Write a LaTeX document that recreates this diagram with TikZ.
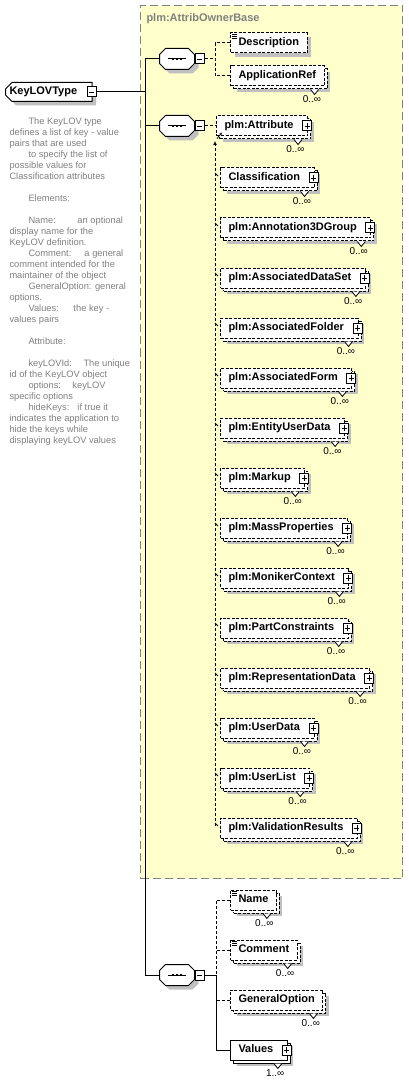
\documentclass[tikz,border=0pt]{standalone}
\usepackage{fontspec}
\setmainfont{Liberation Sans}
\usepackage{tikz}
\usetikzlibrary{arrows.meta,shapes.misc,shadows}
\definecolor{basefill}{HTML}{FFFFCC}
\definecolor{shade}{HTML}{C0C0C0}
\definecolor{notegray}{HTML}{808080}
\newcommand{\elemfont}{\fontsize{11}{13}\bfseries\selectfont}
\newcommand{\notefont}{\fontsize{9.3}{11}\selectfont}
\newcommand{\multfont}{\fontsize{10}{11}\selectfont}
\newcommand{\ind}{\hspace*{19pt}}
% octagon round a compositor node
\newcommand{\octpath}[1]{([xshift=6pt]#1.north west) -- ([xshift=-6pt]#1.north east)
  -- ([yshift=-6pt]#1.north east) -- ([yshift=6pt]#1.south east)
  -- ([xshift=-6pt]#1.south east) -- ([xshift=6pt]#1.south west)
  -- ([yshift=6pt]#1.south west) -- ([yshift=-6pt]#1.north west) -- cycle}

\tikzset{
  elem/.style={draw, fill=white, anchor=west, font=\elemfont, minimum height=20pt,
    inner xsep=8pt, inner ysep=0pt, text height=8pt, text depth=2.5pt,
    dash pattern=on 3pt off 1.5pt},
  single/.style={drop shadow={shadow xshift=4pt, shadow yshift=-4pt, fill=shade, opacity=1}},
  many/.style={drop shadow={shadow xshift=6pt, shadow yshift=-6pt, fill=shade, opacity=1},
    copy shadow={shadow xshift=3pt, shadow yshift=-3pt, draw, fill=white, opacity=1}},
  plus/.style={execute at end node=\hspace*{6pt}},
  plusbox/.style={draw, solid, fill=white, minimum width=9pt, minimum height=10pt, inner sep=0pt,
    path picture={
      \draw[line width=0.8pt] ([xshift=2pt]path picture bounding box.west) -- ([xshift=-2pt]path picture bounding box.east);
      \draw[line width=0.8pt] ([yshift=2pt]path picture bounding box.south) -- ([yshift=-2pt]path picture bounding box.north);}},
  minbox/.style={draw, solid, fill=white, minimum width=9pt, minimum height=10pt, inner sep=0pt,
    path picture={
      \draw[line width=0.8pt] ([xshift=2pt]path picture bounding box.west) -- ([xshift=-2pt]path picture bounding box.east);}},
  seq/.style={minimum width=34pt, minimum height=20pt, inner sep=0pt},
  seqshadow/.style={fill=shade, transform canvas={shift={(4pt,-4pt)}}},
  seqshape/.style={draw, solid, fill=white},
  root/.style={draw, solid, fill=white, chamfered rectangle, chamfered rectangle corners={north west,south west},
    chamfered rectangle xsep=3pt, anchor=west, font=\elemfont, minimum height=19pt,
    inner xsep=1pt, inner ysep=0pt, text height=8pt, text depth=2.5pt,
    execute at end node=\hspace*{11pt},
    drop shadow={shadow xshift=4pt, shadow yshift=-4pt, fill=shade, opacity=1}},
  basebox/.style={draw=notegray, dash pattern=on 8pt off 4pt, fill=basefill},
  basetitle/.style={text=notegray, font=\elemfont, anchor=west, inner sep=0pt},
  note/.style={text=notegray, font=\notefont, align=left, anchor=north west, inner sep=0pt},
  mult/.style={font=\multfont, anchor=north east, inner sep=0pt},
  notch/.style={solid, fill=white, line width=0.8pt},
  dashline/.style={dash pattern=on 3pt off 2pt},
  subtick/.style={line width=0.8pt},
  icon/.style={solid, line width=0.6pt}
}

\begin{document}
\begin{tikzpicture}[x=1pt, y=-1pt, line width=1pt]
\useasboundingbox (0,0) rectangle (408,1083);

% base type area
\node[basebox, anchor=north west, minimum width=262pt, minimum height=873pt] (base) at (140,5) {};
\node[basetitle] (base-t) at (146,19) {plm:AttribOwnerBase};

% complex type and its documentation
\node[root] (key) at (5,92) {KeyLOVType};
\node[minbox] (key-m) at ([xshift=-1pt]key.east) {};
\node[note] (doc) at (9,117) {\ind The KeyLOV type\\
defines a list of key - value\\
pairs that are used\\
\ind to specify the list of\\
possible values for\\
Classification attributes\\[11pt]
\ind Elements:\\[11pt]
\ind\makebox[49pt][l]{Name:}an optional\\
display name for the\\
KeyLOV definition.\\
\ind\makebox[56pt][l]{Comment:}a general\\
comment intended for the\\
maintainer of the object\\
\ind GeneralOption: general\\
options.\\
\ind\makebox[45pt][l]{Values:}the key -\\
values pairs\\[11pt]
\ind Attribute:\\[11pt]
\ind\makebox[55pt][l]{keyLOVId:}The unique\\
id of the KeyLOV object\\
\ind\makebox[44pt][l]{options:}keyLOV\\
specific options\\
\ind\makebox[49pt][l]{hideKeys:}if true it\\
indicates the application to\\
hide the keys while\\
displaying keyLOV values};

% sequences
\foreach \s/\y in {1/59, 2/126, 3/975} {
  \node[seq] (seq\s) at (177,\y) {};
  \fill[seqshadow] \octpath{seq\s};
  \draw[seqshape] \octpath{seq\s};
  \draw ([xshift=-9pt]seq\s.center) -- ([xshift=9pt]seq\s.center);
  \foreach \q in {-4,0,4}
    \fill ([xshift=\q pt-1.3pt,yshift=-1.3pt]seq\s.center) rectangle ([xshift=\q pt+1.3pt,yshift=1.3pt]seq\s.center);
  \node[minbox, anchor=west] (seq\s-m) at (seq\s.east) {};
}
\coordinate (t1) at (145,59);
\coordinate (t3) at (145,975);
\draw (t1) -- (t3);
\draw (key-m.east) -- (key-m.east -| t1);
\draw (t1) -- (seq1.west);
\draw (seq2.west -| t1) -- (seq2.west);
\draw (t3) -- (seq3.west);

% first sequence
\node[elem, single] (desc) at (230,43) {Description};
\node[elem, many] (appref) at (230,76) {ApplicationRef};
\coordinate (b1) at (215,59);
\draw[dashline] (seq1-m.east) -- (b1);
\draw[dashline] (desc.west) -| (b1) |- (appref.west);

% second sequence, substitution group
\node[elem, many, plus] (attr) at (216,126) {plm:Attribute};
\draw[dashline] (seq2-m.east) -- (attr.west);
\coordinate (sg-top) at (215,141);
\coordinate (sg-bot) at (215,826);
\draw[dashline, -{Latex[length=4pt,width=4pt]}] (sg-bot) -- (sg-top);
\draw[subtick, -{Latex[length=2.5pt,width=2.5pt]}] ([xshift=1pt,yshift=-2pt]attr.south west) -- ++(5,-6);
\foreach \y/\n/\t in {178/clas/Classification, 228/annot/plm:Annotation3DGroup,
    278/adset/plm:AssociatedDataSet, 328/afold/plm:AssociatedFolder,
    378/aform/plm:AssociatedForm, 428/eud/plm:EntityUserData, 478/markup/plm:Markup,
    528/mass/plm:MassProperties, 578/mctx/plm:MonikerContext, 628/pcon/plm:PartConstraints,
    678/rdata/plm:RepresentationData, 728/udata/plm:UserData, 778/ulist/plm:UserList,
    828/vres/plm:ValidationResults} {
  \node[elem, many, plus] (\n) at (220,\y) {\t};
  \draw[subtick] ([xshift=-5pt,yshift=5pt]\n.west) -- ([xshift=-2pt,yshift=2pt]\n.west);
}

% third sequence
\node[elem, many] (name) at (230,900) {Name};
\node[elem, many] (comm) at (230,950) {Comment};
\node[elem, many] (gen) at (230,1000) {GeneralOption};
\node[elem, many, plus, solid] (vals) at (230,1050) {Values};
\coordinate (b3) at (216,975);
\draw (seq3-m.east) -- (b3) |- (vals.west);
\draw[dashline] (name.west) -| (b3);
\draw[dashline] (comm.west) -| (b3);
\draw[dashline] (gen.west) -| (b3);

% plus boxes, occurrences, text icons
\foreach \n in {attr,clas,annot,adset,afold,aform,eud,markup,mass,mctx,pcon,rdata,udata,ulist,vres,vals}
  \node[plusbox] (\n-p) at ([xshift=-1pt]\n.east) {};
\foreach \n/\m in {appref/0,attr/0,clas/0,annot/0,adset/0,afold/0,aform/0,eud/0,markup/0,mass/0,
    mctx/0,pcon/0,rdata/0,udata/0,ulist/0,vres/0,name/0,comm/0,gen/0,vals/1} {
  \draw[notch] ([xshift=-14pt,yshift=-3pt]\n.south east) -- ++(4,5) -- ++(4,-5);
  \node[mult] (\n-o) at ([xshift=-3pt,yshift=-9pt]\n.south east) {\m..∞};
}
\foreach \n in {desc,name,comm}
  \foreach \k in {2,4,6}
    \draw[icon] ([xshift=2pt,yshift=-\k pt]\n.north west) -- ++(5,0);
\end{tikzpicture}
\end{document}
